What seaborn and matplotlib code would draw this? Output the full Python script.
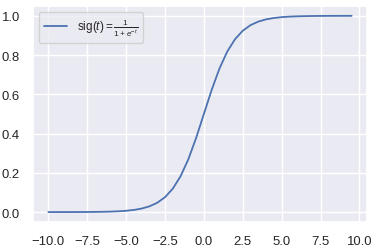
import numpy as np
import matplotlib
matplotlib.use("Agg")
import matplotlib.pyplot as plt
import seaborn as sns
import pandas as pd

t_values = [-10.0, -9.5, -9.0, -8.5, -8.0, -7.5, -7.0, -6.5, -6.0, -5.5,
            -5.0, -4.5, -4.0, -3.5, -3.0, -2.5, -2.0, -1.5, -1.0, -0.5,
            0.0, 0.5, 1.0, 1.5, 2.0, 2.5, 3.0, 3.5, 4.0, 4.5,
            5.0, 5.5, 6.0, 6.5, 7.0, 7.5, 8.0, 8.5, 9.0, 9.5]
sig_values = [0.0000454, 0.0000749, 0.000123, 0.000203, 0.000335, 0.000553,
              0.000911, 0.001501, 0.002473, 0.004070, 0.006693, 0.010987,
              0.017986, 0.029312, 0.047426, 0.075858, 0.119203, 0.182426,
              0.268941, 0.377541, 0.5, 0.622459, 0.731059, 0.817574,
              0.880797, 0.924142, 0.952574, 0.970688, 0.982014, 0.989013,
              0.993307, 0.995930, 0.997527, 0.998499, 0.999089, 0.999447,
              0.999665, 0.999797, 0.999877, 0.999925]
label = r"$\mathrm{sig}(t) = \frac{1}{1 + e^{-t}}$"

sns.set_theme(style="darkgrid", font_scale=0.86)
plt.rcParams["font.family"] = ["Liberation Sans", "DejaVu Sans"]
plt.rcParams["mathtext.fontset"] = "custom"
plt.rcParams["mathtext.rm"] = "Liberation Sans"
plt.rcParams["mathtext.it"] = "Liberation Sans:italic"
df = pd.DataFrame({"t": t_values, "sig": sig_values})

fig, ax = plt.subplots(figsize=(3.77, 2.51), dpi=100)
sns.lineplot(data=df, x="t", y="sig", ax=ax, label=label, linewidth=1.3)
ax.set_xlabel("")
ax.set_ylabel("")
ax.set_xticks([-10.0, -7.5, -5.0, -2.5, 0.0, 2.5, 5.0, 7.5, 10.0])
ax.legend(loc="upper left", fontsize=8.5)
fig.subplots_adjust(left=0.088, right=0.973, bottom=0.112, top=0.972)
fig.savefig("out.png", dpi=100)
